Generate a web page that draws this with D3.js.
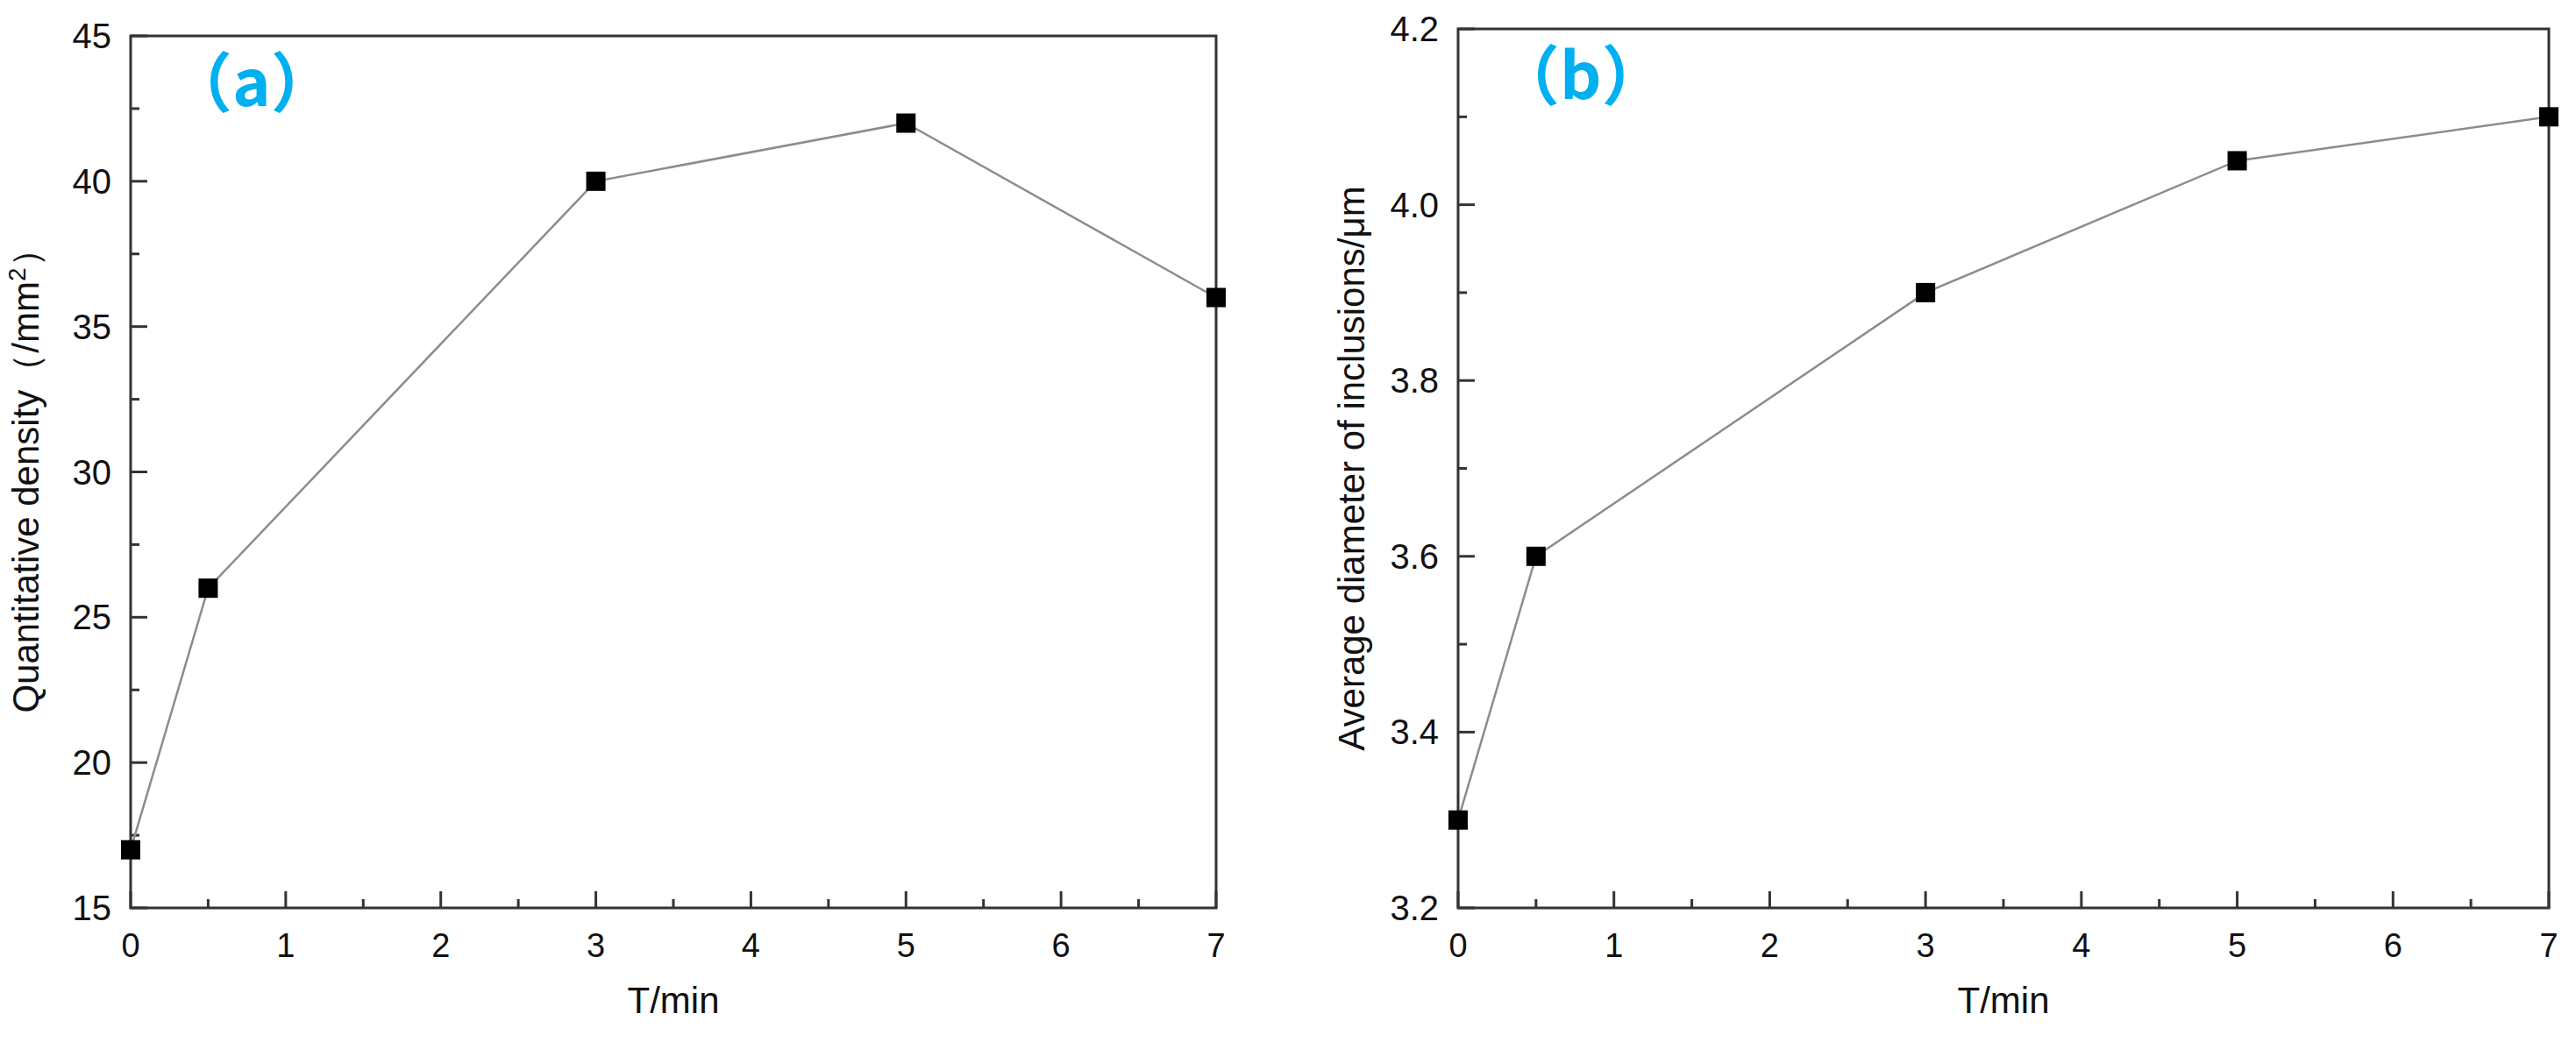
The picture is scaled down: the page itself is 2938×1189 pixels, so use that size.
<!DOCTYPE html>
<html>
<head>
<meta charset="utf-8">
<script src="https://cdn.jsdelivr.net/npm/d3@7.9.0/dist/d3.min.js"></script>
<style>
  body { margin: 0; background: #fff; }
  text { font-family: Arial, "Liberation Sans", sans-serif; fill: #111; }
</style>
</head>
<body>
<svg id="chart" width="2938" height="1189"></svg>
<script>
const times = [0, 0.5, 3, 5, 7];
const densityValues = [17, 26, 40, 42, 36];
const diameterValues = [3.3, 3.6, 3.9, 4.05, 4.1];
const xTicks = [0, 1, 2, 3, 4, 5, 6, 7];
const densityTicks = [15, 20, 25, 30, 35, 40, 45];
const diameterTicks = [3.2, 3.4, 3.6, 3.8, 4.0, 4.2];

const svg = d3.select("#chart");

function renderPanel(cfg) {
  const g = svg.append("g");
  const x = d3.scaleLinear().domain([0, 7]).range([cfg.left, cfg.right]);
  const y = d3.scaleLinear().domain(cfg.yDomain).range([cfg.bottom, cfg.top]);

  // frame
  g.append("rect")
    .attr("x", cfg.left).attr("y", cfg.top)
    .attr("width", cfg.right - cfg.left).attr("height", cfg.bottom - cfg.top)
    .attr("fill", "none").attr("stroke", "#333").attr("stroke-width", 3);

  // x ticks (inward)
  const xMinor = d3.range(0.5, 7, 1);
  g.selectAll(".xt").data(xTicks).join("line")
    .attr("x1", d => x(d)).attr("x2", d => x(d))
    .attr("y1", cfg.bottom).attr("y2", cfg.bottom - 19)
    .attr("stroke", "#333").attr("stroke-width", 3);
  g.selectAll(".xm").data(xMinor).join("line")
    .attr("x1", d => x(d)).attr("x2", d => x(d))
    .attr("y1", cfg.bottom).attr("y2", cfg.bottom - 10)
    .attr("stroke", "#333").attr("stroke-width", 3);
  g.selectAll(".xl").data(xTicks).join("text")
    .attr("x", d => x(d)).attr("y", cfg.bottom + 56)
    .attr("text-anchor", "middle").attr("font-size", 38)
    .text(d => d);

  // y ticks
  const step = cfg.yTicks[1] - cfg.yTicks[0];
  const yMinor = cfg.yTicks.slice(0, -1).map(d => d + step / 2);
  g.selectAll(".yt").data(cfg.yTicks).join("line")
    .attr("x1", cfg.left).attr("x2", cfg.left + 19)
    .attr("y1", d => y(d)).attr("y2", d => y(d))
    .attr("stroke", "#333").attr("stroke-width", 3);
  g.selectAll(".ym").data(yMinor).join("line")
    .attr("x1", cfg.left).attr("x2", cfg.left + 10)
    .attr("y1", d => y(d)).attr("y2", d => y(d))
    .attr("stroke", "#333").attr("stroke-width", 3);
  g.selectAll(".yl").data(cfg.yTicks).join("text")
    .attr("x", cfg.left - 22).attr("y", d => y(d) + 14)
    .attr("text-anchor", "end").attr("font-size", 40)
    .text(cfg.fmt);

  // line + markers
  const pts = times.map((t, i) => [t, cfg.values[i]]);
  g.append("path")
    .datum(pts)
    .attr("fill", "none").attr("stroke", "#8c8c8c").attr("stroke-width", 2.5)
    .attr("d", d3.line().x(d => x(d[0])).y(d => y(d[1])));
  g.selectAll(".pt").data(pts).join("rect")
    .attr("x", d => x(d[0]) - 11).attr("y", d => y(d[1]) - 11)
    .attr("width", 22).attr("height", 22).attr("fill", "#000");

  // titles
  g.append("text")
    .attr("x", (cfg.left + cfg.right) / 2).attr("y", cfg.bottom + 120)
    .attr("text-anchor", "middle").attr("font-size", 42)
    .text("T/min");
  g.append("text")
    .attr("transform", `translate(${cfg.titleX},${(cfg.top + cfg.bottom) / 2}) rotate(-90)`)
    .attr("text-anchor", "middle").attr("font-size", 42)
    .html(cfg.yTitle);
  g.append("text")
    .attr("x", cfg.left + 42).attr("y", cfg.top + 80)
    .attr("font-size", 74).attr("font-weight", "bold")
    .style("font-family", "'Noto Sans CJK SC', sans-serif")
    .style("fill", "#00b0f0")
    .text(cfg.label);
}

renderPanel({
  left: 149, right: 1387, top: 41, bottom: 1036,
  yDomain: [15, 45], yTicks: densityTicks, values: densityValues,
  fmt: d => d, titleX: 44,
  yTitle: 'Quantitative density（/mm<tspan baseline-shift="super" font-size="28">2</tspan>）',
  label: "（a）"
});

renderPanel({
  left: 1663, right: 2907, top: 33, bottom: 1036,
  yDomain: [3.2, 4.2], yTicks: diameterTicks, values: diameterValues,
  fmt: d3.format(".1f"), titleX: 1556,
  yTitle: "Average diameter of inclusions/μm",
  label: "（b）"
});
</script>
</body>
</html>
